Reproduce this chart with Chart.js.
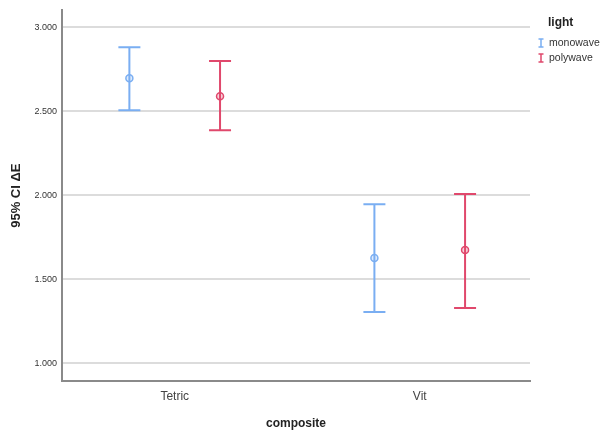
<!DOCTYPE html>
<html>
<head>
<meta charset="utf-8">
<script src="https://cdn.jsdelivr.net/npm/chart.js@4.4.0/dist/chart.umd.min.js"></script>
<style>
  body { margin: 0; background: #fff; }
  #wrap { width: 600px; height: 430px; }
</style>
</head>
<body>
<div id="wrap"><canvas id="ci-chart" width="600" height="430"></canvas></div>
<script>
"use strict";

// Data
const composites = ['Tetric', 'Vit'];
const lights = ['monowave', 'polywave'];
const monoMean = [2.696, 1.625];
const monoLow = [2.506, 1.304];
const monoHigh = [2.881, 1.946];
const polyMean = [2.589, 1.673];
const polyLow = [2.387, 1.327];
const polyHigh = [2.798, 2.006];
const yTicks = [1.0, 1.5, 2.0, 2.5, 3.0];

const colours = ['#7aaef2', '#e0486c'];
const dodge = 0.185;

function makeSet(label, means, lows, highs, i) {
    let pts = [];
    for (let k = 0; k < composites.length; k++) {
        pts.push({ x: k + (i == 0 ? -dodge : dodge), y: means[k], lo: lows[k], hi: highs[k] });
    }
    return {
        label: label,
        data: pts,
        borderColor: colours[i],
        backgroundColor: colours[i] + '40',
        pointRadius: 3.5,
        pointBorderWidth: 1.5,
        showLine: false
    };
}

// whiskers drawn from the scales
const errorBars = {
    id: 'errorBars',
    beforeDatasetsDraw(chart) {
        const ctx = chart.ctx;
        const xs = chart.scales.x, ys = chart.scales.y;
        chart.data.datasets.forEach(ds => {
            ctx.save();
            ctx.strokeStyle = ds.borderColor;
            ctx.lineWidth = 2;
            ds.data.forEach(p => {
                let px = xs.getPixelForValue(p.x);
                let top = ys.getPixelForValue(p.hi);
                let bot = ys.getPixelForValue(p.lo);
                ctx.beginPath();
                ctx.moveTo(px, top); ctx.lineTo(px, bot);
                ctx.moveTo(px - 11, top); ctx.lineTo(px + 11, top);
                ctx.moveTo(px - 11, bot); ctx.lineTo(px + 11, bot);
                ctx.stroke();
            });
            ctx.restore();
        });
    }
};

// legend at the right, with I-bar icons
const sideLegend = {
    id: 'sideLegend',
    afterDraw(chart) {
        const ctx = chart.ctx;
        ctx.save();
        ctx.fillStyle = '#222';
        ctx.font = 'bold 12px "Liberation Sans", Arial, sans-serif';
        ctx.textBaseline = 'middle';
        ctx.fillText('light', 548, 23);
        ctx.font = '10.5px "Liberation Sans", Arial, sans-serif';
        chart.data.datasets.forEach((ds, i) => {
            let y = 43 + i * 15;
            ctx.strokeStyle = ds.borderColor;
            ctx.lineWidth = 1.5;
            ctx.beginPath();
            ctx.moveTo(541, y - 4); ctx.lineTo(541, y + 4);
            ctx.moveTo(538.5, y - 4); ctx.lineTo(543.5, y - 4);
            ctx.moveTo(538.5, y + 4); ctx.lineTo(543.5, y + 4);
            ctx.stroke();
            ctx.fillStyle = '#333';
            ctx.fillText(ds.label, 549, y);
        });
        ctx.restore();
    }
};

let ciChart = new Chart(document.getElementById('ci-chart').getContext('2d'), {
    type: 'scatter',
    data: {
        datasets: [
            makeSet(lights[0], monoMean, monoLow, monoHigh, 0),
            makeSet(lights[1], polyMean, polyLow, polyHigh, 1)
        ]
    },
    options: {
        responsive: false,
        animation: false,
        layout: { padding: { top: 10, right: 70, left: 0, bottom: 0 } },
        plugins: {
            legend: { display: false },
            tooltip: { enabled: false }
        },
        scales: {
            x: {
                type: 'linear',
                min: -0.46,
                max: 1.45,
                afterBuildTicks: s => { s.ticks = composites.map((c, k) => ({ value: k })); },
                afterFit: s => { s.height = 49; },
                grid: { display: false, drawTicks: false },
                border: { display: true, color: '#8a8a8a', width: 2 },
                ticks: {
                    callback: v => composites[v],
                    color: '#444',
                    padding: 8,
                    font: { size: 12, family: '"Liberation Sans", Arial, sans-serif' }
                },
                title: {
                    display: true,
                    text: 'composite',
                    color: '#222',
                    padding: { top: 4, bottom: -1 },
                    font: { size: 12, weight: 'bold', family: '"Liberation Sans", Arial, sans-serif' }
                }
            },
            y: {
                min: 0.893,
                max: 3.1,
                afterBuildTicks: s => { s.ticks = yTicks.map(v => ({ value: v })); },
                afterFit: s => { s.width = 62; },
                grid: { color: '#dcdcdc', lineWidth: 2, drawTicks: false },
                border: { display: true, color: '#8a8a8a', width: 2 },
                ticks: {
                    callback: v => v.toFixed(3),
                    color: '#333',
                    padding: 5,
                    font: { size: 9, family: '"Liberation Sans", Arial, sans-serif' }
                },
                title: {
                    display: true,
                    text: '95% CI ΔE',
                    color: '#222',
                    padding: { top: 9, bottom: 6 },
                    font: { size: 13, weight: 'bold', family: '"Liberation Sans", Arial, sans-serif' }
                }
            }
        }
    },
    plugins: [errorBars, sideLegend]
});
</script>
</body>
</html>
